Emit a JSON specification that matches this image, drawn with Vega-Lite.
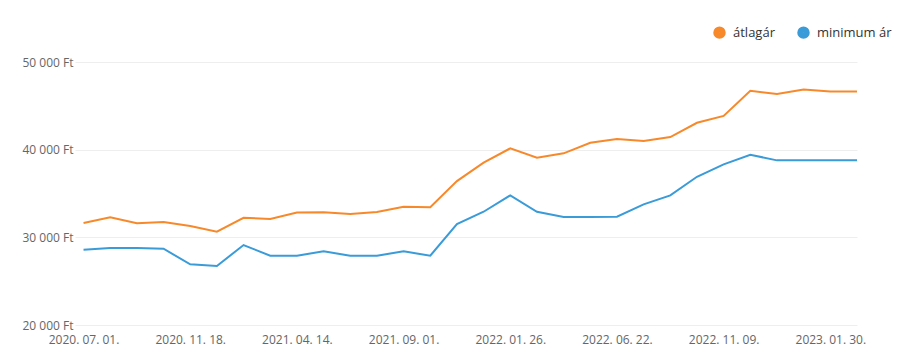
{
  "$schema": "https://vega.github.io/schema/vega-lite/v6.json",
  "autosize": {"type": "none"},
  "padding": {"left": 75, "top": 62, "right": 46, "bottom": 39},
  "width": 782,
  "height": 263,
  "background": "white",
  "config": {
    "view": {"stroke": null},
    "font": "Open Sans"
  },
  "data": {
    "values": [
      {"d": "2020. 07. 01.", "i": 0, "s": "átlagár", "v": 31630},
      {"d": "2020. 08. 05.", "i": 1, "s": "átlagár", "v": 32300},
      {"d": "2020. 09. 09.", "i": 2, "s": "átlagár", "v": 31600},
      {"d": "2020. 10. 14.", "i": 3, "s": "átlagár", "v": 31750},
      {"d": "2020. 11. 18.", "i": 4, "s": "átlagár", "v": 31300},
      {"d": "2020. 12. 23.", "i": 5, "s": "átlagár", "v": 30650},
      {"d": "2021. 01. 27.", "i": 6, "s": "átlagár", "v": 32220},
      {"d": "2021. 03. 03.", "i": 7, "s": "átlagár", "v": 32100},
      {"d": "2021. 04. 14.", "i": 8, "s": "átlagár", "v": 32830},
      {"d": "2021. 05. 19.", "i": 9, "s": "átlagár", "v": 32860},
      {"d": "2021. 06. 23.", "i": 10, "s": "átlagár", "v": 32660},
      {"d": "2021. 07. 28.", "i": 11, "s": "átlagár", "v": 32880},
      {"d": "2021. 09. 01.", "i": 12, "s": "átlagár", "v": 33500},
      {"d": "2021. 10. 06.", "i": 13, "s": "átlagár", "v": 33440},
      {"d": "2021. 11. 10.", "i": 14, "s": "átlagár", "v": 36420},
      {"d": "2021. 12. 15.", "i": 15, "s": "átlagár", "v": 38510},
      {"d": "2022. 01. 26.", "i": 16, "s": "átlagár", "v": 40150},
      {"d": "2022. 03. 02.", "i": 17, "s": "átlagár", "v": 39080},
      {"d": "2022. 04. 06.", "i": 18, "s": "átlagár", "v": 39580},
      {"d": "2022. 05. 11.", "i": 19, "s": "átlagár", "v": 40790},
      {"d": "2022. 06. 22.", "i": 20, "s": "átlagár", "v": 41210},
      {"d": "2022. 07. 27.", "i": 21, "s": "átlagár", "v": 40980},
      {"d": "2022. 08. 31.", "i": 22, "s": "átlagár", "v": 41440},
      {"d": "2022. 10. 05.", "i": 23, "s": "átlagár", "v": 43070},
      {"d": "2022. 11. 09.", "i": 24, "s": "átlagár", "v": 43850},
      {"d": "2022. 11. 30.", "i": 25, "s": "átlagár", "v": 46720},
      {"d": "2022. 12. 21.", "i": 26, "s": "átlagár", "v": 46340},
      {"d": "2023. 01. 09.", "i": 27, "s": "átlagár", "v": 46870},
      {"d": "2023. 01. 30.", "i": 28, "s": "átlagár", "v": 46640},
      {"d": "2023. 02. 20.", "i": 29, "s": "átlagár", "v": 46640},
      {"d": "2020. 07. 01.", "i": 0, "s": "minimum ár", "v": 28590},
      {"d": "2020. 08. 05.", "i": 1, "s": "minimum ár", "v": 28780},
      {"d": "2020. 09. 09.", "i": 2, "s": "minimum ár", "v": 28780},
      {"d": "2020. 10. 14.", "i": 3, "s": "minimum ár", "v": 28700},
      {"d": "2020. 11. 18.", "i": 4, "s": "minimum ár", "v": 26920},
      {"d": "2020. 12. 23.", "i": 5, "s": "minimum ár", "v": 26730},
      {"d": "2021. 01. 27.", "i": 6, "s": "minimum ár", "v": 29120},
      {"d": "2021. 03. 03.", "i": 7, "s": "minimum ár", "v": 27900},
      {"d": "2021. 04. 14.", "i": 8, "s": "minimum ár", "v": 27900},
      {"d": "2021. 05. 19.", "i": 9, "s": "minimum ár", "v": 28400},
      {"d": "2021. 06. 23.", "i": 10, "s": "minimum ár", "v": 27900},
      {"d": "2021. 07. 28.", "i": 11, "s": "minimum ár", "v": 27900},
      {"d": "2021. 09. 01.", "i": 12, "s": "minimum ár", "v": 28400},
      {"d": "2021. 10. 06.", "i": 13, "s": "minimum ár", "v": 27900},
      {"d": "2021. 11. 10.", "i": 14, "s": "minimum ár", "v": 31520},
      {"d": "2021. 12. 15.", "i": 15, "s": "minimum ár", "v": 32920},
      {"d": "2022. 01. 26.", "i": 16, "s": "minimum ár", "v": 34790},
      {"d": "2022. 03. 02.", "i": 17, "s": "minimum ár", "v": 32920},
      {"d": "2022. 04. 06.", "i": 18, "s": "minimum ár", "v": 32310},
      {"d": "2022. 05. 11.", "i": 19, "s": "minimum ár", "v": 32310},
      {"d": "2022. 06. 22.", "i": 20, "s": "minimum ár", "v": 32350},
      {"d": "2022. 07. 27.", "i": 21, "s": "minimum ár", "v": 33760},
      {"d": "2022. 08. 31.", "i": 22, "s": "minimum ár", "v": 34790},
      {"d": "2022. 10. 05.", "i": 23, "s": "minimum ár", "v": 36910},
      {"d": "2022. 11. 09.", "i": 24, "s": "minimum ár", "v": 38320},
      {"d": "2022. 11. 30.", "i": 25, "s": "minimum ár", "v": 39420},
      {"d": "2022. 12. 21.", "i": 26, "s": "minimum ár", "v": 38780},
      {"d": "2023. 01. 09.", "i": 27, "s": "minimum ár", "v": 38780},
      {"d": "2023. 01. 30.", "i": 28, "s": "minimum ár", "v": 38780},
      {"d": "2023. 02. 20.", "i": 29, "s": "minimum ár", "v": 38780}
    ]
  },
  "mark": {"type": "line", "strokeWidth": 2, "interpolate": "linear"},
  "encoding": {
    "x": {
      "field": "d",
      "type": "ordinal",
      "sort": {"field": "i"},
      "scale": {"type": "point", "padding": 0.16, "align": 1},
      "axis": {
        "title": null,
        "values": ["2020. 07. 01.", "2020. 11. 18.", "2021. 04. 14.", "2021. 09. 01.", "2022. 01. 26.", "2022. 06. 22.", "2022. 11. 09.", "2023. 01. 30."],
        "labelAngle": 0,
        "ticks": false,
        "domain": false,
        "grid": false,
        "labelFontSize": 12,
        "labelColor": "#666666",
        "labelPadding": 9,
        "labelOverlap": false
      }
    },
    "y": {
      "field": "v",
      "type": "quantitative",
      "scale": {"domain": [20000, 50000], "nice": false, "zero": false},
      "axis": {
        "title": null,
        "values": [20000, 30000, 40000, 50000],
        "labelExpr": "replace(format(datum.value, ',d'), ',', ' ') + ' Ft'",
        "ticks": false,
        "domain": false,
        "gridColor": "#eeeeee",
        "gridWidth": 1,
        "labelFontSize": 12,
        "labelColor": "#666666",
        "labelPadding": 2
      }
    },
    "color": {
      "field": "s",
      "type": "nominal",
      "scale": {"domain": ["átlagár", "minimum ár"], "range": ["#f7892a", "#3a9bd9"]},
      "legend": {
        "title": null,
        "orient": "none",
        "direction": "horizontal",
        "legendX": 638,
        "legendY": -36,
        "symbolType": "circle",
        "symbolSize": 42,
        "symbolStrokeWidth": 6,
        "symbolOpacity": 1,
        "labelFontSize": 13,
        "labelColor": "#333333",
        "labelOffset": 7,
        "columnPadding": 13
      }
    }
  }
}
